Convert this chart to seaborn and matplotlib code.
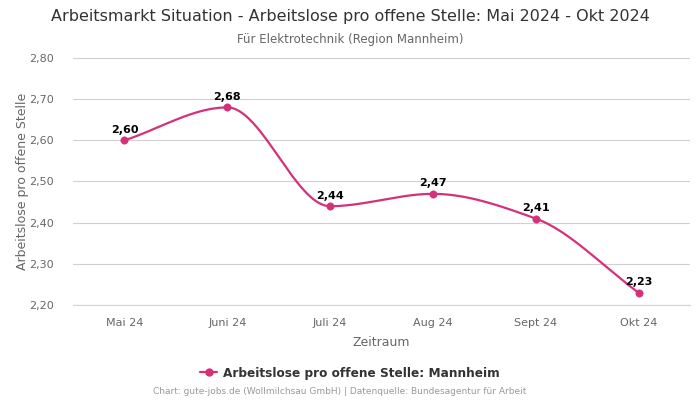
import numpy as np
import pandas as pd
import matplotlib
matplotlib.use("Agg")
import matplotlib.pyplot as plt
import seaborn as sns

months = ["Mai 24", "Juni 24", "Juli 24", "Aug 24", "Sept 24", "Okt 24"]
values = [2.60, 2.68, 2.44, 2.47, 2.41, 2.23]
yticks = [2.20, 2.30, 2.40, 2.50, 2.60, 2.70, 2.80]
series_name = "Arbeitslose pro offene Stelle: Mannheim"

COLOR = "#d4317b"

sns.set_theme(style="white")
plt.rcParams['font.family'] = ['DejaVu Sans']

df = pd.DataFrame({"x": np.arange(len(months)), "y": values})

def pchip(x, y, xs):
    x = np.asarray(x, float); y = np.asarray(y, float)
    h = np.diff(x); d = np.diff(y) / h
    n = len(x); m = np.zeros(n)
    for k in range(1, n - 1):
        if d[k - 1] * d[k] > 0:
            w1 = 2 * h[k] + h[k - 1]; w2 = h[k] + 2 * h[k - 1]
            m[k] = (w1 + w2) / (w1 / d[k - 1] + w2 / d[k])
    m[0] = d[0]; m[-1] = d[-1]
    out = np.empty_like(xs)
    for i, xv in enumerate(xs):
        k = min(max(np.searchsorted(x, xv) - 1, 0), n - 2)
        t = (xv - x[k]) / h[k]
        h00 = 2*t**3 - 3*t**2 + 1; h10 = t**3 - 2*t**2 + t
        h01 = -2*t**3 + 3*t**2; h11 = t**3 - t**2
        out[i] = h00*y[k] + h10*h[k]*m[k] + h01*y[k+1] + h11*h[k]*m[k+1]
    return out

xs = np.linspace(0, len(months) - 1, 400)
smooth = pd.DataFrame({"x": xs, "y": pchip(df["x"], df["y"], xs)})

fig = plt.figure(figsize=(7, 4), dpi=100)
ax = fig.add_axes([73/700, 1 - 305/400, 617/700, 247/400])

sns.lineplot(data=smooth, x="x", y="y", ax=ax, color=COLOR, linewidth=1.6)
sns.scatterplot(data=df, x="x", y="y", ax=ax, color=COLOR, s=28, edgecolor=COLOR, zorder=5)

for xv, yv in zip(df["x"], df["y"]):
    ax.annotate(f"{yv:.2f}".replace(".", ","), (xv, yv), xytext=(0, 4),
                textcoords="offset points", ha="center", va="bottom",
                fontsize=8, fontweight="bold", color="#000000")

ax.set_xlim(-0.5, len(months) - 0.5)
ax.set_ylim(2.20, 2.80)
ax.set_xticks(range(len(months)))
ax.set_xticklabels(months)
ax.set_yticks(yticks)
ax.set_yticklabels([f"{t:.2f}".replace(".", ",") for t in yticks])
ax.tick_params(axis="both", labelsize=8, colors="#666666", length=0)
ax.tick_params(axis="x", pad=9)
ax.tick_params(axis="y", pad=14)
ax.yaxis.grid(True, color="#d0d0d0", linewidth=0.8)
ax.set_axisbelow(True)
for s in ["top", "right", "left"]:
    ax.spines[s].set_visible(False)
ax.spines["bottom"].set_color("#ccd6eb")
ax.spines["bottom"].set_linewidth(0.8)

ax.set_xlabel("Zeitraum", fontsize=9, color="#666666", labelpad=6)
ax.set_ylabel("Arbeitslose pro offene Stelle", fontsize=9, color="#666666", labelpad=0)

fig.text(0.5, 1 - 17/400, "Arbeitsmarkt Situation - Arbeitslose pro offene Stelle: Mai 2024 - Okt 2024",
         ha="center", va="center", fontsize=11.5, color="#333333")
fig.text(0.5, 1 - 39/400, "Für Elektrotechnik (Region Mannheim)",
         ha="center", va="center", fontsize=8.5, color="#666666")

from matplotlib.lines import Line2D
h = Line2D([0], [0], color=COLOR, marker="o", markersize=5, linewidth=1.6)
leg = fig.legend([h], [series_name], loc="center", bbox_to_anchor=(0.5, 1 - 373/400),
                 frameon=False, prop={"size": 8.7, "weight": "bold"}, handlelength=1.4,
                 handletextpad=0.5)
for t in leg.get_texts():
    t.set_color("#333333")

fig.text(340/700, 1 - 392/400, "Chart: gute-jobs.de (Wollmilchsau GmbH) | Datenquelle: Bundesagentur für Arbeit",
         ha="center", va="center", fontsize=6.5, color="#999999")

fig.savefig("out.png", dpi=100, facecolor="white")
